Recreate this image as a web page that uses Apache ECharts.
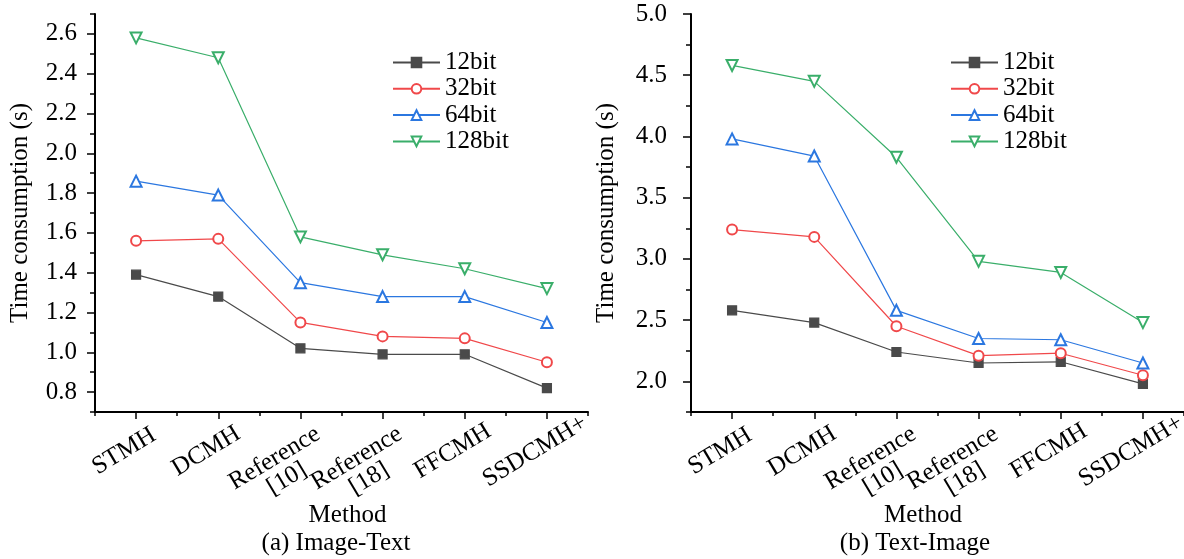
<!DOCTYPE html>
<html><head><meta charset="utf-8">
<script src="https://cdn.jsdelivr.net/npm/echarts@6/dist/echarts.min.js"></script>
<style>html,body{margin:0;padding:0;background:#fff}#c{width:1184px;height:559px}</style>
</head><body><div id="c"></div>
<script>
const categories = ['STMH', 'DCMH', 'Reference\n[10]', 'Reference\n[18]', 'FFCMH', 'SSDCMH+'];
const seriesNames = ['12bit', '32bit', '64bit', '128bit'];
const imageText12 = [1.39, 1.28, 1.02, 0.99, 0.99, 0.82];
const imageText32 = [1.56, 1.57, 1.15, 1.08, 1.07, 0.95];
const imageText64 = [1.86, 1.79, 1.35, 1.28, 1.28, 1.15];
const imageText128 = [2.58, 2.48, 1.58, 1.49, 1.42, 1.32];
const textImage12 = [2.58, 2.48, 2.24, 2.15, 2.16, 1.98];
const textImage32 = [3.24, 3.18, 2.45, 2.21, 2.23, 2.05];
const textImage64 = [3.98, 3.84, 2.58, 2.35, 2.34, 2.15];
const textImage128 = [4.58, 4.45, 3.83, 2.98, 2.89, 2.48];
const leftMajorTicks = [0.8, 1.0, 1.2, 1.4, 1.6, 1.8, 2.0, 2.2, 2.4, 2.6];
const leftMinorTicks = [0.7, 0.9, 1.1, 1.3, 1.5, 1.7, 1.9, 2.1, 2.3, 2.5, 2.7];
const rightMajorTicks = [2.0, 2.5, 3.0, 3.5, 4.0, 4.5, 5.0];
const rightMinorTicks = [1.75, 2.25, 2.75, 3.25, 3.75, 4.25, 4.75];
const xAxisName = 'Method';
const yAxisName = 'Time consumption (s)';
const captions = ['(a) Image-Text', '(b) Text-Image'];

const FONT = "'Liberation Serif', 'Times New Roman', serif";
const colors = ['#4a4a4a', '#f0484a', '#2b77e0', '#3aae6a'];
const symbols = ['rect', 'emptyCircle', 'emptyTriangle', 'emptyTriangle'];
const symbolRotates = [0, 0, 0, 180];
const symbolSizes = [9, 10, 11, 11];

const txt = { fontFamily: FONT, fontSize: 25, color: '#000' };

function mainX(gridIndex, namePadding) {
  return {
    type: 'category', gridIndex: gridIndex, data: categories, boundaryGap: true,
    name: xAxisName, nameLocation: 'middle', nameGap: 91, nameMoveOverlap: false,
    nameTextStyle: Object.assign({ padding: namePadding }, txt),
    axisLine: { show: true, lineStyle: { color: '#000', width: 2 } },
    axisTick: { show: true, alignWithLabel: true, length: 7, lineStyle: { color: '#000', width: 1.5 } },
    axisLabel: Object.assign({
      show: true, interval: 0, rotate: 31, align: 'center', verticalAlign: 'middle',
      margin: 32, padding: [0, 28, 0, 0], lineHeight: 28,
      formatter: function (value) {
        const parts = value.split('\n');
        if (parts.length === 1) return value;
        return '{r|' + parts[0] + '}\n{s|' + parts[1] + '}';
      },
      rich: {
        r: Object.assign({ lineHeight: 28, padding: [26, 31, 0, 0] }, txt),
        s: Object.assign({ lineHeight: 28, padding: [18, 31, 0, 0] }, txt)
      }
    }, txt),
    splitLine: { show: false }
  };
}
function minorX(gridIndex) {
  return {
    type: 'category', gridIndex: gridIndex, data: categories, boundaryGap: true,
    axisLine: { show: false }, axisLabel: { show: false }, splitLine: { show: false },
    axisTick: { show: true, alignWithLabel: false, length: 4, lineStyle: { color: '#000', width: 1.5 } }
  };
}
function mainY(gridIndex, min, max, major, margin, nameGap) {
  return {
    type: 'value', gridIndex: gridIndex, min: min, max: max,
    name: yAxisName, nameLocation: 'middle', nameGap: nameGap, nameMoveOverlap: false,
    nameTextStyle: txt,
    axisLine: { show: true, lineStyle: { color: '#000', width: 2 } },
    axisTick: { show: true, customValues: major, length: 8, lineStyle: { color: '#000', width: 1.5 } },
    axisLabel: Object.assign({ show: true, customValues: major, margin: margin,
      formatter: v => Number(v).toFixed(1) }, txt),
    splitLine: { show: false }
  };
}
function minorY(gridIndex, min, max, minor) {
  return {
    type: 'value', gridIndex: gridIndex, min: min, max: max,
    axisLine: { show: false }, axisLabel: { show: false }, splitLine: { show: false },
    axisTick: { show: true, customValues: minor, length: 5, lineStyle: { color: '#000', width: 1.5 } }
  };
}
function makeSeries(name, i, data, axisIdx) {
  return {
    type: 'line', name: name, data: data, xAxisIndex: axisIdx, yAxisIndex: axisIdx,
    symbol: symbols[i], symbolRotate: symbolRotates[i], symbolSize: symbolSizes[i],
    showAllSymbol: true, animation: false, z: 10 + i,
    lineStyle: { color: colors[i], width: 1.2 },
    itemStyle: { color: colors[i], borderColor: colors[i], borderWidth: 1.2 }
  };
}
const leftData = [imageText12, imageText32, imageText64, imageText128];
const rightData = [textImage12, textImage32, textImage64, textImage128];

const legendBase = {
  orient: 'vertical', top: 50, itemWidth: 47, itemHeight: 12, itemGap: 1.3, padding: 0,
  selectedMode: false, data: seriesNames,
  textStyle: { fontFamily: FONT, fontSize: 25, color: '#000', lineHeight: 24 }
};
const gridBox = (left) => ({ left: left, top: 14, width: 493, height: 398, containLabel: false, outerBoundsMode: 'none' });

const option = {
  animation: false,
  backgroundColor: '#fff',
  grid: [gridBox(95), gridBox(95), gridBox(691), gridBox(691)],
  xAxis: [mainX(0, [0, 0, 0, 12]), minorX(1), mainX(2, [0, 29, 0, 0]), minorX(3)],
  yAxis: [
    mainY(0, 0.7, 2.7, leftMajorTicks, 18, 62),
    minorY(1, 0.7, 2.7, leftMinorTicks),
    mainY(2, 1.75, 5.0, rightMajorTicks, 24, 72),
    minorY(3, 1.75, 5.0, rightMinorTicks)
  ],
  legend: [
    Object.assign({}, legendBase, { left: 392 }),
    Object.assign({}, legendBase, { left: 950 })
  ],
  title: [
    { text: captions[0], left: 336, top: 531, textAlign: 'center', padding: 0,
      textStyle: Object.assign({ fontWeight: 'normal' }, txt) },
    { text: captions[1], left: 915, top: 531, textAlign: 'center', padding: 0,
      textStyle: Object.assign({ fontWeight: 'normal' }, txt) }
  ],
  series: [
    ...seriesNames.map((n, i) => makeSeries(n, i, leftData[i], 0)),
    ...seriesNames.map((n, i) => makeSeries(n, i, rightData[i], 2))
  ]
};
const chart = echarts.init(document.getElementById('c'), null, { renderer: 'canvas' });
chart.setOption(option);
</script>
</body></html>
